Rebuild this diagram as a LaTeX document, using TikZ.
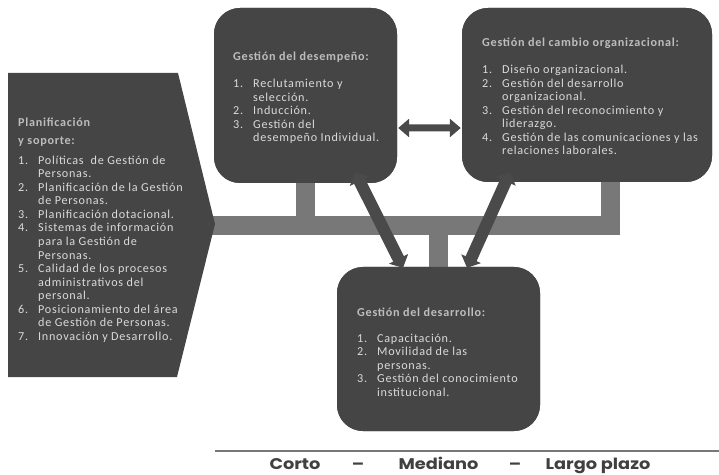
\documentclass[tikz,border=0pt]{standalone}
\usepackage{fontspec}
\setmainfont[LetterSpace=6]{Carlito}
\newfontfamily\plazofont[FakeStretch=1.15]{Poppins}
\usetikzlibrary{arrows.meta}

\definecolor{caja}{HTML}{454545}
\definecolor{barra}{HTML}{787878}
\definecolor{flecha}{HTML}{4A4A4A}
\definecolor{titulo}{HTML}{BDBDBD}
\definecolor{letra}{HTML}{DADADA}
\definecolor{plazo}{HTML}{404040}

\newcommand{\num}[1]{\makebox[20bp][l]{#1}}
\newcommand{\sig}{\hspace*{20bp}}
\newcommand{\tit}[1]{{\bfseries\color{titulo}#1}}

\begin{document}
\begin{tikzpicture}[x=1bp,y=-1bp]
            \tikzstyle{box}=[fill=caja, rounded corners=26bp, inner sep=0pt]
            \tikzstyle{txt}=[anchor=north west, inner sep=0pt, align=left, text=letra,
                font=\fontsize{12.2}{13.6}\selectfont]
            \tikzstyle{bar}=[draw=barra, line width=19bp]
            \tikzstyle{doble}=[draw=flecha, line width=7bp,
                {Triangle[width=18bp,length=11bp]}-{Triangle[width=18bp,length=11bp]}]
            \tikzstyle{diag}=[draw=flecha, line width=12bp,
                {Triangle[width=21bp,length=10bp]}-{Triangle[width=21bp,length=10bp]}]
            \tikzstyle{plazotxt}=[anchor=base, inner sep=0pt, text=plazo,
                font=\plazofont\bfseries\fontsize{15.5}{15.5}\selectfont]
            \useasboundingbox (0,0) rectangle (719,475);

            % cajas
            \node[box, minimum width=183bp, minimum height=175bp] (desem) at (305.5,95.5) {};
            \node[box, minimum width=250bp, minimum height=174bp] (cambio) at (587,95) {};
            \node[box, minimum width=203bp, minimum height=164bp] (desarrollo) at (438.5,349) {};
            \coordinate (punta) at (215,224);
            \coordinate (esq) at (610,225.5);

            % barras grises
            \draw[bar] ([xshift=-20bp]punta |- esq) -- (esq) -- ([yshift=10bp]esq |- cambio.south);
            \draw[bar] ([yshift=10bp]desem.south) -- (desem.south |- esq);
            \draw[bar] ([yshift=-10bp]desarrollo.north) -- (desarrollo.north |- esq);
            \node[box, minimum width=183bp, minimum height=175bp] at (desem) {};
            \node[box, minimum width=250bp, minimum height=174bp] at (cambio) {};
            \node[box, minimum width=203bp, minimum height=164bp] at (desarrollo) {};
            \fill[caja] (8,73) -- (178,73) -- (punta) -- (177,377) -- (8,377) -- cycle;

            % flechas
            \draw[doble] ([shift={(1,32.5)}]desem.east) -- ([shift={(-1,33)}]cambio.west);
            \draw[diag] ([shift={(49.5,-11)}]desem.south) -- ([shift={(-35.5,1)}]desarrollo.north);
            \draw[diag] ([shift={(-77,-10)}]cambio.south) -- ([shift={(28.5,1)}]desarrollo.north);

            % textos
            \node[txt] (planitxt) at (18,118) {\tit{Planificación}\\[4bp]
                \tit{y soporte:}\\[6.4bp]
                \num{1.}Políticas\ \ de Gestión de\\ \sig Personas.\\
                \num{2.}Planificación de la Gestión\\ \sig de Personas.\\
                \num{3.}Planificación dotacional.\\
                \num{4.}Sistemas de información\\ \sig para la Gestión de\\ \sig Personas.\\
                \num{5.}Calidad de los procesos\\ \sig administrativos del\\ \sig personal.\\
                \num{6.}Posicionamiento del área\\ \sig de Gestión de Personas.\\
                \num{7.}Innovación y Desarrollo.};
            \node[txt] (desemtxt) at (233,52) {\tit{Gestión del desempeño:}\\[13.4bp]
                \num{1.}Reclutamiento y\\ \sig selección.\\
                \num{2.}Inducción.\\
                \num{3.}Gestión del\\ \sig desempeño Individual.};
            \node[txt] (cambiotxt) at (482,38) {\tit{Gestión del cambio organizacional:}\\[13.4bp]
                \num{1.}Diseño organizacional.\\
                \num{2.}Gestión del desarrollo\\ \sig organizacional.\\
                \num{3.}Gestión del reconocimiento y\\ \sig liderazgo.\\
                \num{4.}Gestión de las comunicaciones y las\\ \sig relaciones laborales.};
            \node[txt] (desarrollotxt) at (357,308) {\tit{Gestión del desarrollo:}\\[12bp]
                \num{1.}Capacitación.\\
                \num{2.}Movilidad de las\\ \sig personas.\\
                \num{3.}Gestión del conocimiento\\ \sig institucional.};

            % plazos
            \draw[draw=barra, line width=2.5bp] (215,451) -- (719,451);
            \node[plazotxt] (corto) at (295,469) {Corto};
            \node[plazotxt] (guion1) at (358,469) {–};
            \node[plazotxt] (mediano) at (438.5,469) {Mediano};
            \node[plazotxt] (guion2) at (515,469) {–};
            \node[plazotxt] (largo) at (598,469) {Largo plazo};
\end{tikzpicture}
\end{document}
